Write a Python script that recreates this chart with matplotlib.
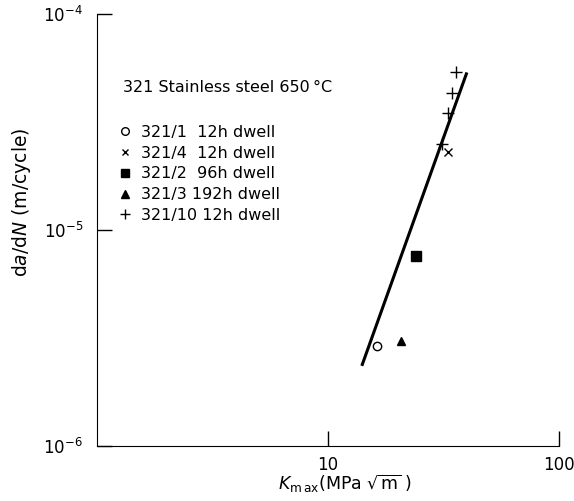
import matplotlib
matplotlib.use("Agg")
import matplotlib.pyplot as plt
from matplotlib.lines import Line2D

# measured points, Kmax (MPa sqrt m) vs da/dN (m/cycle)
k_321_1 = [16.3]
r_321_1 = [2.9e-6]
k_321_4 = [33.0]
r_321_4 = [2.3e-5]
k_321_2 = [24.0]
r_321_2 = [7.6e-6]
k_321_3 = [20.6]
r_321_3 = [3.07e-6]
k_321_10 = [35.8, 34.3, 33.0, 31.2]
r_321_10 = [5.4e-5, 4.3e-5, 3.5e-5, 2.5e-5]

# fitted line end points
fit_k = [14.0, 39.9]
fit_r = [2.35e-6, 5.37e-5]

labels = ["321/1  12h dwell", "321/4  12h dwell", "321/2  96h dwell",
          "321/3 192h dwell", "321/10 12h dwell"]

plt.rcParams["font.family"] = ["DejaVu Sans"]
plt.rcParams["mathtext.fontset"] = "dejavusans"

fig = plt.figure(figsize=(5.74, 5.01), dpi=100)
ax = fig.add_axes([0.169, 0.1098, 0.805, 0.862])

ax.plot(fit_k, fit_r, color="black", lw=2.2, solid_capstyle="butt")
ax.plot(k_321_1, r_321_1, "o", mfc="white", mec="black", ms=6, mew=1)
ax.plot(k_321_4, r_321_4, "x", color="black", ms=6, mew=1)
ax.plot(k_321_2, r_321_2, "s", color="black", ms=6.5)
ax.plot(k_321_3, r_321_3, "^", color="black", ms=6)
ax.plot(k_321_10, r_321_10, "+", color="black", ms=8, mew=1)

ax.set_xscale("log")
ax.set_yscale("log")
ax.set_xlim(1, 100)
ax.set_ylim(1e-6, 1e-4)
ax.set_xticks([10, 100])
ax.set_xticklabels(["10", "100"])
ax.set_yticks([1e-6, 1e-5, 1e-4])
ax.set_yticklabels([r"$10^{-6}$", r"$10^{-5}$", r"$10^{-4}$"])
ax.minorticks_off()
ax.tick_params(direction="in", length=11, width=1, labelsize=12, pad=7)
ax.tick_params(axis="y", pad=10)

for s in ["top", "right"]:
    ax.spines[s].set_visible(False)

ax.set_xlabel(r"$K_{\rm m\,ax}$(MPa $\sqrt{\rm m}$ )", fontsize=12.5)
ax.xaxis.set_label_coords((345 - 97) / 462, -27 / 432)
ax.set_ylabel(r"d$a$/d$N$ (m/cycle)", fontsize=13.5)
ax.yaxis.set_label_coords(-64 / 462, (446 - 202) / 432)

fig.text(123 / 574, 1 - 87 / 501, "321 Stainless steel 650\u2009°C", fontsize=11.5,
         va="center", ha="left")

handles = [
    Line2D([], [], ls="", marker="o", mfc="white", mec="black", ms=5.5),
    Line2D([], [], ls="", marker="x", color="black", ms=5),
    Line2D([], [], ls="", marker="s", color="black", ms=5.5),
    Line2D([], [], ls="", marker="^", color="black", ms=5.5),
    Line2D([], [], ls="", marker="+", color="black", ms=7),
]
leg = ax.legend(handles, labels, loc="upper left",
                bbox_to_anchor=(120 / 574, 1 - 125 / 501),
                bbox_transform=fig.transFigure, frameon=False, fontsize=11.5,
                handlelength=0.6, handletextpad=0.71, labelspacing=0.36,
                borderpad=0, borderaxespad=0)

fig.savefig("out.png", dpi=100)
